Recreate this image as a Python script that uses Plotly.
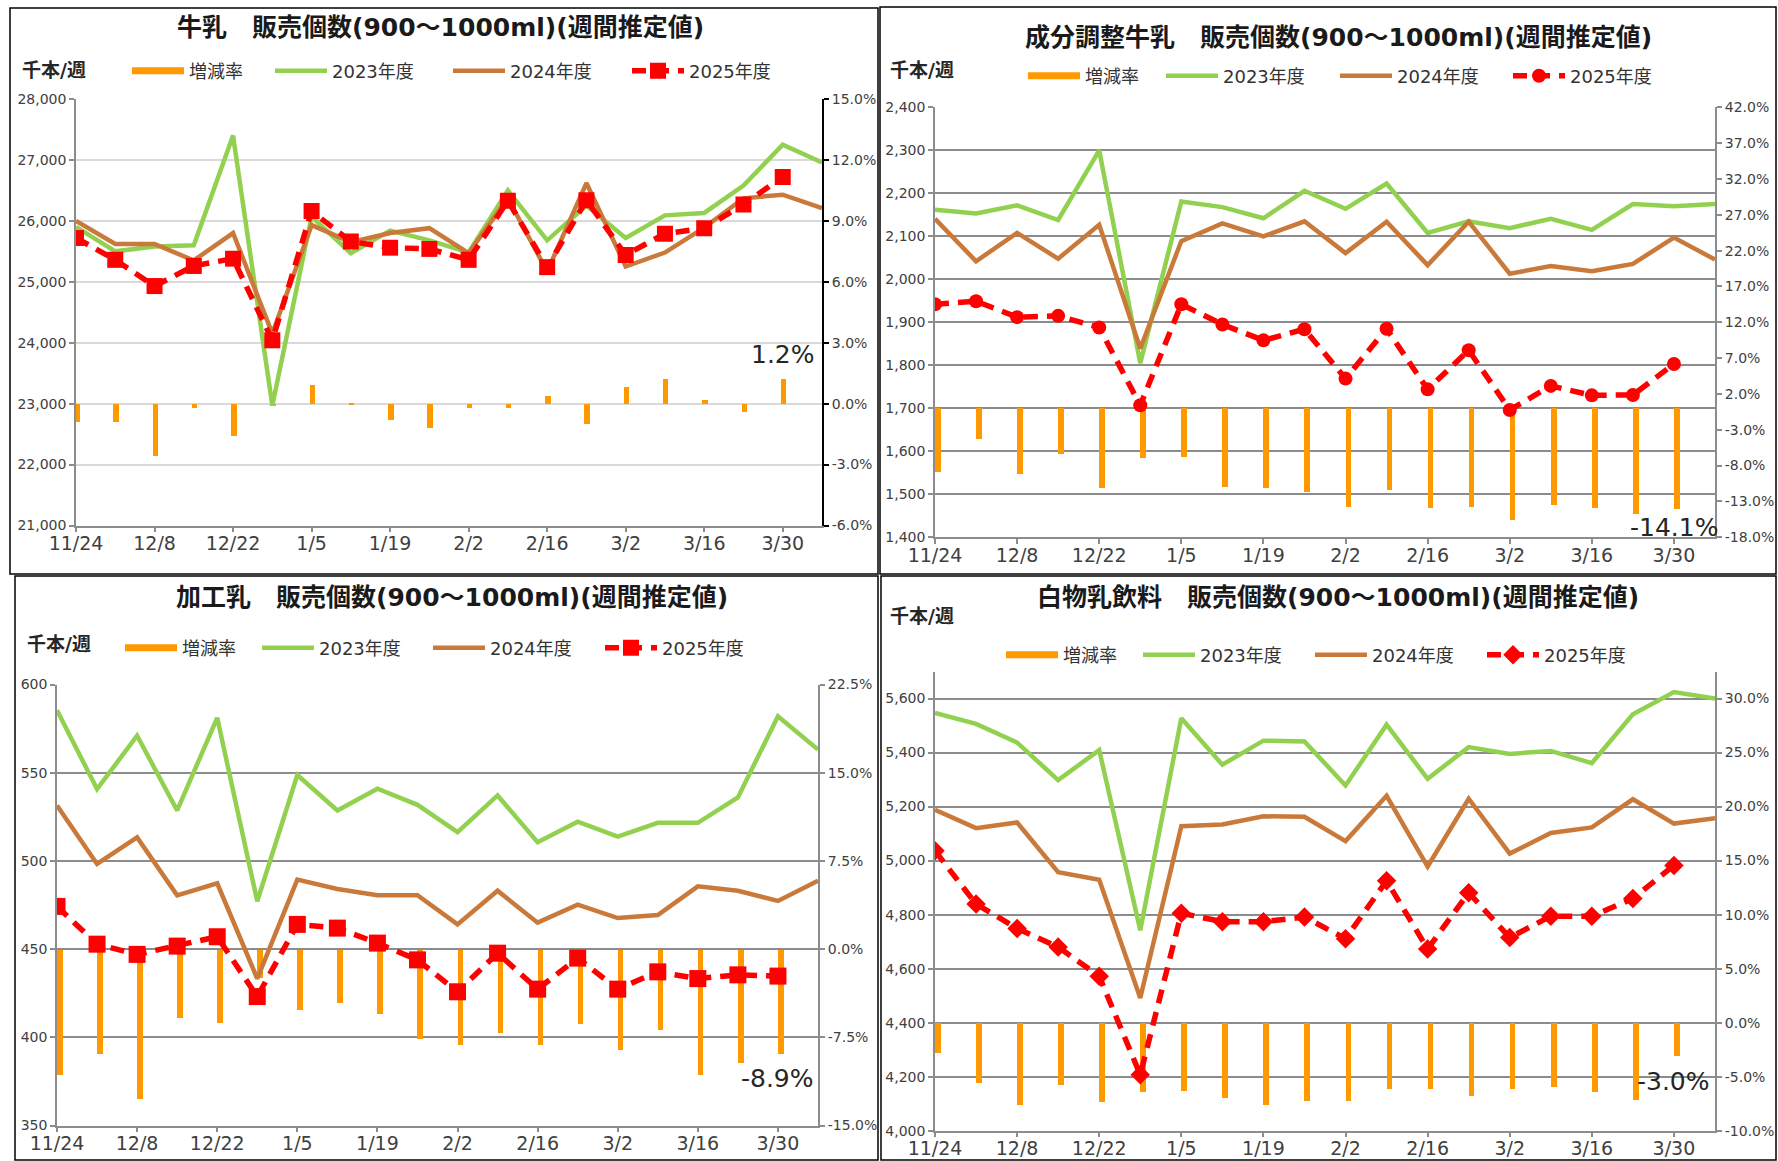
import plotly.graph_objects as go

W, H = 1778, 1161
FONT = "DejaVu Sans, Noto Sans CJK JP"

# ---------------- data ----------------
weeks = ["11/24", "12/1", "12/8", "12/15", "12/22", "12/29", "1/5", "1/12", "1/19", "1/26",
         "2/2", "2/9", "2/16", "2/23", "3/2", "3/9", "3/16", "3/23", "3/30", "4/6"]
tick_labels = ["11/24", "12/8", "12/22", "1/5", "1/19", "2/2", "2/16", "3/2", "3/16", "3/30"]
series_names = ["増減率", "2023年度", "2024年度", "2025年度"]

# 牛乳
milk_2023 = [25900, 25500, 25580, 25600, 27400, 22970, 26070, 25470, 25840, 25680,
             25480, 26500, 25680, 26250, 25720, 26090, 26130, 26580, 27250, 26960]
milk_2024 = [26000, 25620, 25620, 25350, 25800, 24150, 25930, 25650, 25800, 25880,
             25470, 26370, 25170, 26620, 25250, 25480, 25890, 26370, 26430, 26210]
milk_2025 = [25720, 25360, 24930, 25260, 25380, 24040, 26160, 25660, 25560, 25540,
             25360, 26330, 25240, 26340, 25440, 25790, 25880, 26270, 26720]
milk_rate = [-0.9, -0.9, -2.6, -0.2, -1.6, -0.1, 0.9, -0.05, -0.8, -1.2,
             -0.2, -0.2, 0.4, -1.0, 0.8, 1.2, 0.2, -0.4, 1.2]

# 成分調整牛乳
adj_2023 = [2162, 2153, 2172, 2138, 2300, 1805, 2181, 2168, 2142, 2206,
            2164, 2223, 2108, 2135, 2119, 2141, 2115, 2175, 2170, 2175]
adj_2024 = [2141, 2042, 2108, 2048, 2127, 1839, 2089, 2130, 2100, 2135,
            2061, 2134, 2033, 2134, 2013, 2031, 2019, 2036, 2097, 2046]
adj_2025 = [1942, 1949, 1912, 1915, 1888, 1707, 1942, 1895, 1858, 1884,
            1769, 1885, 1744, 1835, 1696, 1752, 1730, 1731, 1803]
adj_rate = [-9.0, -4.3, -9.2, -6.5, -11.2, -7.0, -6.8, -11.1, -11.2, -11.7,
            -13.9, -11.4, -14.0, -13.8, -15.6, -13.6, -14.0, -14.8, -14.1]

# 加工乳
proc_2023 = [585.4, 540.7, 571.0, 528.6, 581.1, 477.1, 548.7, 528.6, 540.9, 531.8,
             516.3, 537.1, 510.6, 522.2, 513.8, 521.6, 521.6, 536.0, 582.0, 563.1]
proc_2024 = [531.4, 498.3, 513.3, 480.5, 487.3, 433.3, 489.4, 484.1, 480.5, 480.5,
             464.0, 483.1, 465.0, 475.2, 467.6, 469.3, 485.6, 483.1, 477.3, 488.8]
proc_2025 = [474.2, 452.8, 447.0, 451.7, 457.0, 423.1, 464.0, 461.9, 453.4, 443.9,
             425.8, 447.7, 427.3, 444.9, 427.3, 437.1, 433.3, 435.4, 434.7]
proc_rate = [-10.7, -8.9, -12.7, -5.8, -6.2, -2.4, -5.1, -4.5, -5.5, -7.6,
             -8.1, -7.1, -8.1, -6.3, -8.5, -6.8, -10.7, -9.6, -8.9]

# 白物乳飲料
white_2023 = [5547, 5506, 5437, 5298, 5409, 4742, 5527, 5355, 5444, 5441,
              5278, 5503, 5303, 5420, 5395, 5406, 5361, 5542, 5624, 5600]
white_2024 = [5188, 5120, 5141, 4957, 4929, 4491, 5127, 5134, 5164, 5162,
              5072, 5240, 4978, 5229, 5026, 5102, 5123, 5227, 5137, 5157]
white_2025 = [5036, 4839, 4749, 4680, 4572, 4207, 4805, 4774, 4774, 4791,
              4711, 4925, 4673, 4881, 4715, 4794, 4794, 4860, 4982]
white_rate = [-2.8, -5.5, -7.6, -5.7, -7.3, -6.4, -6.3, -6.9, -7.6, -7.2,
              -7.2, -6.1, -6.1, -6.7, -6.1, -5.9, -6.4, -7.1, -3.0]

# ---------------- styling ----------------
C_BAR = "#FF9900"
C_23 = "#92D050"
C_24 = "#C9793A"
C_25 = "#FF0000"
TXT = "#404040"

panels = [
    dict(title="牛乳　販売個数(900～1000ml)(週間推定値)",
         d23=milk_2023, d24=milk_2024, d25=milk_2025, rate=milk_rate,
         box=(10, 8, 878, 574), plot=(76, 99, 822, 525.5),
         title_xy=(440, 27), unit_xy=(20, 70), legend_xy=(132, 71), pitches=(143, 178, 179),
         lrange=[21000, 28000], ldt=1000, rrange=[-6, 15], rdt=3,
         grid="#D9D9D9", rline="#000000", symbol="square", msize=16,
         label_y=2.4, bar_offset=-0.05),
    dict(title="成分調整牛乳　販売個数(900～1000ml)(週間推定値)",
         d23=adj_2023, d24=adj_2024, d25=adj_2025, rate=adj_rate,
         box=(880, 7, 1776, 574), plot=(935, 107.4, 1715, 537.2),
         title_xy=(1338, 38), unit_xy=(888, 70), legend_xy=(1028, 76), pitches=(138, 174, 173),
         lrange=[1400, 2400], ldt=100, rrange=[-18, 42], rdt=5,
         grid="#8C8C8C", rline="#8C8C8C", symbol="circle", msize=14,
         label_y=-16.7, bar_offset=0),
    dict(title="加工乳　販売個数(900～1000ml)(週間推定値)",
         d23=proc_2023, d24=proc_2024, d25=proc_2025, rate=proc_rate,
         box=(15, 576, 878, 1160), plot=(57, 684.5, 818, 1125.5),
         title_xy=(452, 597), unit_xy=(25, 644), legend_xy=(125, 648), pitches=(137, 171, 172),
         lrange=[350, 600], ldt=50, rrange=[-15, 22.5], rdt=7.5,
         grid="#8C8C8C", rline="#8C8C8C", symbol="square", msize=17,
         label_y=-11.0, bar_offset=0),
    dict(title="白物乳飲料　販売個数(900～1000ml)(週間推定値)",
         d23=white_2023, d24=white_2024, d25=white_2025, rate=white_rate,
         box=(881, 576, 1776, 1160), plot=(935, 671.5, 1715, 1130.7),
         title_xy=(1338, 597), unit_xy=(888, 616), legend_xy=(1006, 655), pitches=(137, 172, 172),
         lrange=[4000, 5700], ldt=200, rrange=[-10, 32.5], rdt=5,
         grid="#8C8C8C", rline="#8C8C8C", symbol="diamond", msize=15,
         label_y=-5.4, bar_offset=0),
]


def pct_ticks(lo, hi, step):
    vals, v = [], lo
    while v <= hi + 1e-9:
        vals.append(round(v, 4))
        v += step
    return vals, [f"{t:.1f}%" for t in vals]


ITEMW = 52
fig = go.Figure()
layout = dict(template="none", width=W, height=H, margin=dict(l=0, r=0, t=0, b=0),
              autosize=False, paper_bgcolor="white", plot_bgcolor="rgba(0,0,0,0)",
              font=dict(family=FONT, color=TXT), bargap=0, showlegend=True,
              hovermode=False)
shapes, annotations = [], []

for k, p in enumerate(panels, start=1):
    xid = "x" if k == 1 else f"x{k}"
    xname = "xaxis" if k == 1 else f"xaxis{k}"
    r, l = 2 * k - 1, 2 * k
    yr_id = "y" if r == 1 else f"y{r}"
    yr_name = "yaxis" if r == 1 else f"yaxis{r}"
    yl_id, yl_name = f"y{l}", f"yaxis{l}"
    lg = "legend" if k == 1 else f"legend{k}"

    x0, y0, x1, y1 = p["plot"]
    xdom = [x0 / W, x1 / W]
    ydom = [1 - y1 / H, 1 - y0 / H]
    rvals, rtext = pct_ticks(p["rrange"][0], p["rrange"][1], p["rdt"])

    layout[xname] = dict(domain=xdom, anchor=yr_id, type="category", automargin=False,
                         categoryorder="array", categoryarray=weeks,
                         range=[0, len(weeks) - 1], tickmode="array",
                         tickvals=tick_labels, ticktext=tick_labels,
                         ticks="outside", ticklen=5, tickcolor="#8C8C8C", tickwidth=1.5,
                         ticklabelstandoff=-5,
                         showline=True, linecolor="#8C8C8C", linewidth=1.5,
                         showgrid=False, zeroline=False,
                         tickfont=dict(size=19, color=TXT, family=FONT))
    layout[yr_name] = dict(domain=ydom, anchor=xid, side="right", automargin=False,
                           range=p["rrange"], tickmode="array", tickvals=rvals, ticktext=rtext,
                           showgrid=False, zeroline=False,
                           showline=True, linecolor=p["rline"], linewidth=2,
                           ticks="outside", ticklen=5, tickcolor=p["rline"], tickwidth=1.5,
                           tickfont=dict(size=14, color=TXT, family=FONT))
    layout[yl_name] = dict(domain=ydom, anchor=xid, side="left", overlaying=yr_id,
                           automargin=False,
                           range=p["lrange"], tick0=p["lrange"][0], dtick=p["ldt"],
                           tickformat=",d", showgrid=True, gridcolor=p["grid"], gridwidth=1.5,
                           zeroline=False, showline=True, linecolor="#8C8C8C", linewidth=1.5,
                           ticks="outside", ticklen=5, tickcolor="#8C8C8C", tickwidth=1.5,
                           tickfont=dict(size=14, color=TXT, family=FONT))

    n25 = len(p["rate"])
    # bars (rate) on the right axis
    fig.add_trace(go.Bar(x=weeks[:n25], y=p["rate"], xaxis=xid, yaxis=yr_id,
                         marker=dict(color=C_BAR, line=dict(width=0)),
                         width=0.14, offset=p["bar_offset"], showlegend=False,
                         name=series_names[0], legend=lg))
    # legend entry for the bar series
    fig.add_trace(go.Scatter(x=[None], y=[None], xaxis=xid, yaxis=yr_id, mode="lines",
                             line=dict(color=C_BAR, width=7), name=series_names[0],
                             legend=lg, legendwidth=p["pitches"][0] - (ITEMW + 15)))
    fig.add_trace(go.Scatter(x=weeks, y=p["d23"], xaxis=xid, yaxis=yl_id, mode="lines",
                             line=dict(color=C_23, width=4.5), name=series_names[1],
                             legend=lg, legendwidth=p["pitches"][1] - (ITEMW + 15)))
    fig.add_trace(go.Scatter(x=weeks, y=p["d24"], xaxis=xid, yaxis=yl_id, mode="lines",
                             line=dict(color=C_24, width=4.5), name=series_names[2],
                             legend=lg, legendwidth=p["pitches"][2] - (ITEMW + 15)))
    fig.add_trace(go.Scatter(x=weeks[:n25], y=p["d25"], xaxis=xid, yaxis=yl_id,
                             mode="lines+markers",
                             line=dict(color=C_25, width=5.5, dash="14px,9px"),
                             marker=dict(symbol=p["symbol"], size=p["msize"], color=C_25,
                                         line=dict(width=0)),
                             name=series_names[3], legend=lg))

    lx, ly = p["legend_xy"]
    layout[lg] = dict(orientation="h", x=(lx - 5) / W, xanchor="left",
                      y=1 - ly / H, yanchor="middle", itemwidth=ITEMW,
                      font=dict(size=18, color="#333333", family=FONT),
                      bgcolor="rgba(0,0,0,0)", borderwidth=0, traceorder="normal",
                      itemclick=False, itemdoubleclick=False)

    bx0, by0, bx1, by1 = p["box"]
    shapes.append(dict(type="rect", xref="paper", yref="paper",
                       x0=bx0 / W, x1=bx1 / W, y0=1 - by1 / H, y1=1 - by0 / H,
                       line=dict(color="#000000", width=1.5), fillcolor="rgba(0,0,0,0)",
                       layer="above"))

    tx, ty = p["title_xy"]
    annotations.append(dict(text=f"<b>{p['title']}</b>", xref="paper", yref="paper",
                            x=tx / W, y=1 - ty / H, xanchor="center", yanchor="middle",
                            showarrow=False, font=dict(size=25, color="#1a1a1a", family=FONT)))
    ux, uy = p["unit_xy"]
    annotations.append(dict(text="<b>千本/週</b>", xref="paper", yref="paper",
                            x=ux / W, y=1 - uy / H, xanchor="left", yanchor="middle",
                            showarrow=False, font=dict(size=19, color="#262626", family=FONT)))
    annotations.append(dict(text=f"{p['rate'][-1]:.1f}%", xref=xid, yref=yr_id,
                            x=weeks[n25 - 1], y=p["label_y"], xanchor="center",
                            yanchor="middle", showarrow=False,
                            font=dict(size=25, color="#262626", family=FONT)))

layout["shapes"] = shapes
layout["annotations"] = annotations
fig.update_layout(**layout)

fig.write_html("out.html", config={"displayModeBar": False},
               post_script="document.body.style.margin='0';document.body.style.overflow='hidden';")
